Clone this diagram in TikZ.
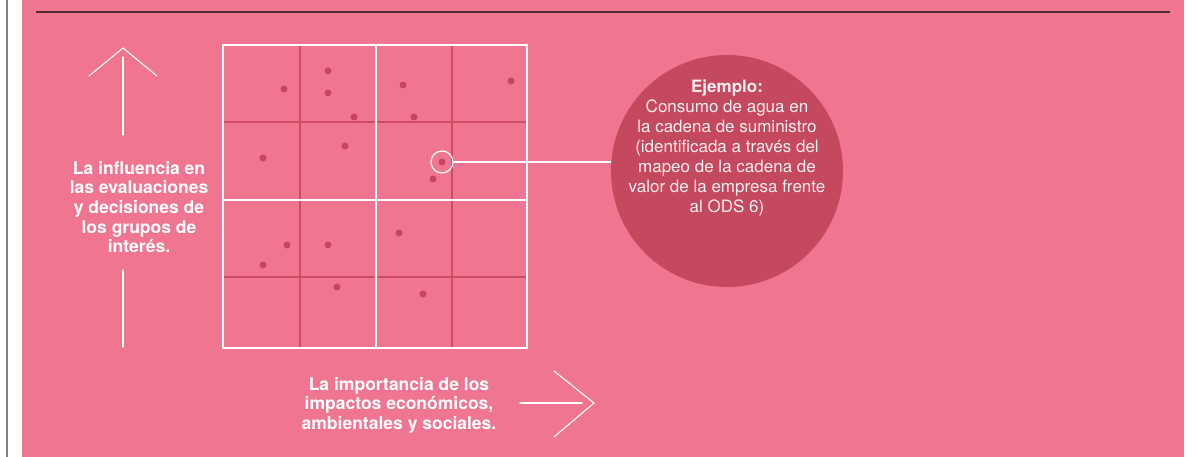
\documentclass[tikz,border=0pt]{standalone}
\usepackage{fontspec}
\setmainfont{TeX Gyre Heros}
\definecolor{fondo}{HTML}{F07591}
\definecolor{circulo}{HTML}{C4485E}
\definecolor{rejilla}{HTML}{D04B64}
\definecolor{punto}{HTML}{C84560}
\definecolor{raya}{HTML}{4D2B33}

\begin{document}
\begin{tikzpicture}[x=1pt, y=-1pt,
		dot/.style={circle, fill=punto, inner sep=0pt, minimum size=7pt},
		blanca/.style={draw=white, line width=1.2pt},
		oscura/.style={draw=rejilla, line width=1.2pt},
		flecha/.style={draw=white, line width=1.1pt, line cap=round, line join=round},
		rotulo/.style={text=white, align=center, font=\bfseries\fontsize{17.5}{19.6}\selectfont}]
		\useasboundingbox (0,0) rectangle (1192,457);
		\fill[white] (0,0) rectangle (1192,457);
		\draw[gray, line width=1.5pt] (7,0) -- (7,457);
		\fill[fondo] (22,0) rectangle (1184,457);
		\draw[raya, line width=1.4pt] (36,12) -- (1170,12);
		\foreach \x in {300,452} \draw[oscura] (\x,45) -- (\x,348);
		\foreach \y in {122,277} \draw[oscura] (223,\y) -- (527,\y);
		\draw[blanca] (223,45) rectangle (527,348);
		\draw[blanca] (376,45) -- (376,348);
		\draw[blanca] (223,200) -- (527,200);
		\draw[white, line width=2.4pt] (223,348) -- (284,348);
		\foreach \px/\py in {284/89, 328/71, 328/93, 354/117, 403/85, 414/117, 511/81, 263/158, 345/146, 433/179, 399/233, 287/245, 328/245, 263/265, 337/287, 423/294}
			\node[dot] at (\px,\py) {};
		\node[dot] (agua) at (442,162) {};
		\node[circle, blanca, minimum size=22pt, inner sep=0pt] (marca) at (agua) {};
		\node[circle, fill=circulo, minimum size=232pt, inner sep=0pt] (ejemplo) at (727,171) {};
		\draw[white, line width=1.2pt] (marca.east) -- (marca.east -| ejemplo.west);
		\node[text=white!88!fondo, align=center, font=\fontsize{17}{20}\selectfont] (nota) at (727,148)
			{\textbf{Ejemplo:}\\Consumo de agua en\\la cadena de suministro\\(identificada a través del\\mapeo de la cadena de\\valor de la empresa frente\\al ODS 6)};
		\node[rotulo] (influencia) at (139,207) {La influencia en\\las evaluaciones\\y decisiones de\\los grupos de\\interés.};
		\node[rotulo] (importancia) at (399,405) {La importancia de los\\impactos económicos,\\ambientales y sociales.};
		\coordinate (arriba) at (123,48);
		\draw[flecha] (123,57) -- (123,135);
		\draw[flecha] (123,270) -- (123,347);
		\draw[flecha] (89,76) -- (arriba) -- (157,76);
		\coordinate (derecha) at (594,403);
		\draw[flecha] (520,403) -- (582,403);
		\draw[flecha] (554,371) -- (derecha) -- (554,437);
\end{tikzpicture}
\end{document}
